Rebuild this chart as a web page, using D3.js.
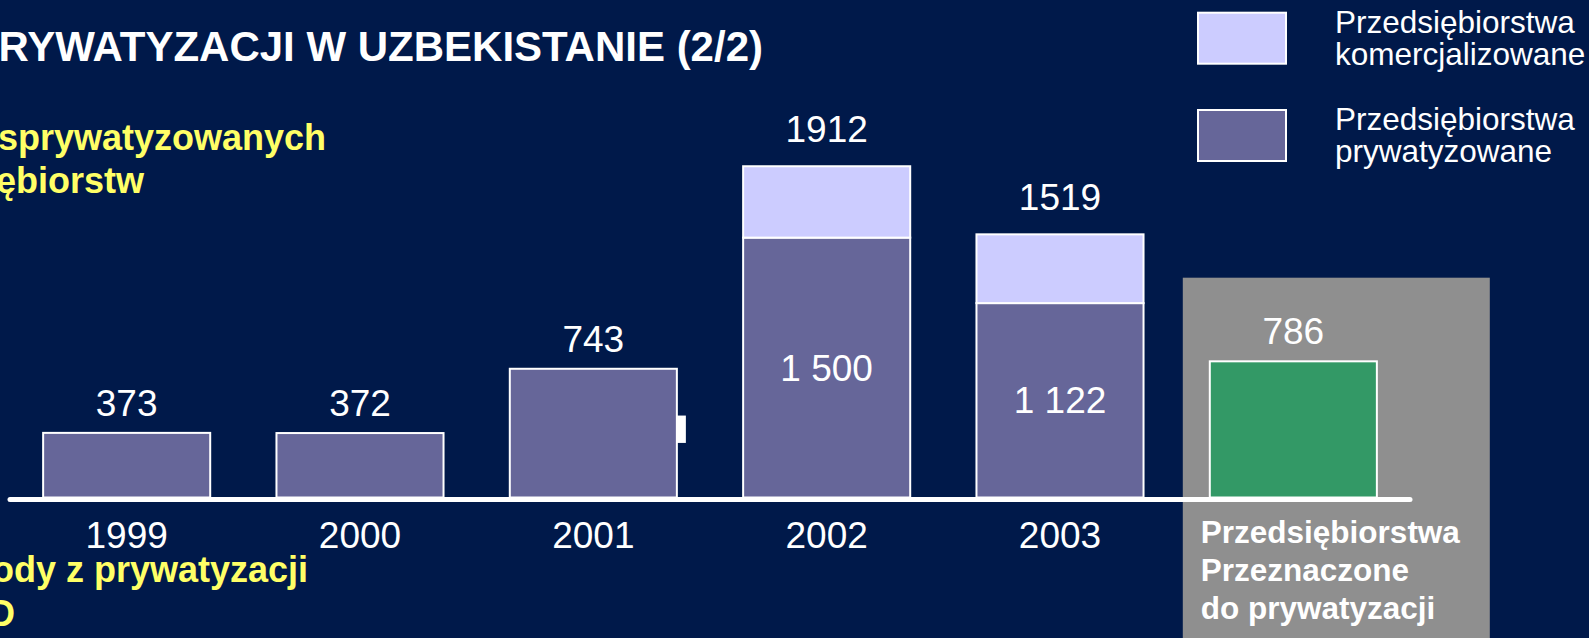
<!DOCTYPE html>
<html>
<head>
<meta charset="utf-8">
<script src="https://cdn.jsdelivr.net/npm/d3@7"></script>
<style>
  html, body { margin: 0; padding: 0; background: #00194a; overflow: hidden; }
  text { font-family: "Liberation Sans", Arial, sans-serif; }
</style>
</head>
<body>
<script>
const years = ["1999", "2000", "2001", "2002", "2003", "plan"];
const privatized = [373, 372, 743, 1500, 1122];
const commercialized = [0, 0, 0, 412, 397];
const totals = ["373", "372", "743", "1912", "1519"];
const innerLabels = ["", "", "", "1 500", "1 122"];
const planned = 786;
const legendLabels = [["Przedsiębiorstwa", "komercjalizowane"], ["Przedsiębiorstwa", "prywatyzowane"]];
const plannedLabel = ["Przedsiębiorstwa", "Przeznaczone", "do prywatyzacji"];

const width = 1589
const height = 638;

const colors = {priv: "#666699", comm: "#ccccff", plan: "#339966", box: "#8f8f8f", yellow: "#ffff66"}

const svg = d3.select("body")
    .append("svg")
    .attr("width", width)
    .attr("height", height)

const x = d3.scaleBand()
    .domain(years)
    .range([10, 1410])
    .paddingInner(0.284)
    .paddingOuter(0.142)

const y = d3.scaleLinear()
    .domain([0, 2000])
    .range([497.5, 151])

// rows for the stacked bars
const rows = years.slice(0, 5).map((d, i) => ({
    year: d, priv: privatized[i], comm: commercialized[i], total: totals[i], inner: innerLabels[i]
}))

// title (cut at the left edge like in the slide)
svg.append("text")
    .attr("x", 763).attr("y", 61)
    .attr("text-anchor", "end")
    .attr("fill", "white")
    .attr("font-weight", "bold")
    .attr("font-size", 42)
    .text("RYWATYZACJI W UZBEKISTANIE (2/2)")

// yellow side captions
const captions = [
    {t: "sprywatyzowanych", x: -2, y: 150},
    {t: "ębiorstw", x: -4, y: 193},
    {t: "ody z prywatyzacji", x: -8, y: 582},
    {t: "D", x: -11, y: 626}
]
svg.selectAll(".caption")
    .data(captions)
    .join("text")
    .attr("x", d => d.x).attr("y", d => d.y)
    .attr("fill", colors.yellow)
    .attr("font-weight", "bold")
    .attr("font-size", 36)
    .text(d => d.t)

// gray panel behind the planned bar
svg.append("rect")
    .attr("x", x("plan") - 27).attr("y", 277.7)
    .attr("width", 307).attr("height", height - 277.7)
    .attr("fill", colors.box)

// privatized part
svg.selectAll(".priv")
    .data(rows)
    .join("rect")
    .attr("x", d => x(d.year))
    .attr("y", d => y(d.priv))
    .attr("width", x.bandwidth())
    .attr("height", d => y(0) - y(d.priv))
    .attr("fill", colors.priv)
    .attr("stroke", "white")
    .attr("stroke-width", 2)

// commercialized part on top
svg.selectAll(".comm")
    .data(rows.filter(d => d.comm > 0))
    .join("rect")
    .attr("x", d => x(d.year))
    .attr("y", d => y(d.priv + d.comm))
    .attr("width", x.bandwidth())
    .attr("height", d => y(d.priv) - y(d.priv + d.comm))
    .attr("fill", colors.comm)
    .attr("stroke", "white")
    .attr("stroke-width", 2)

// little white tab on the 2001 bar
svg.append("rect")
    .attr("x", x("2001") + x.bandwidth()).attr("y", y(473))
    .attr("width", 9).attr("height", y(315) - y(473))
    .attr("fill", "white")

// planned bar
svg.append("rect")
    .attr("x", x("plan"))
    .attr("y", y(planned))
    .attr("width", x.bandwidth())
    .attr("height", y(0) - y(planned))
    .attr("fill", colors.plan)
    .attr("stroke", "white")
    .attr("stroke-width", 2)

// baseline
svg.append("line")
    .attr("x1", 10).attr("x2", 1410)
    .attr("y1", y(0) + 2).attr("y2", y(0) + 2)
    .attr("stroke", "white")
    .attr("stroke-width", 5)
    .attr("stroke-linecap", "round")

// totals above the bars (stacked ones sit a bit higher)
svg.selectAll(".total")
    .data(rows.concat([{year: "plan", priv: planned, comm: 0, total: String(planned)}]))
    .join("text")
    .attr("x", d => x(d.year) + x.bandwidth() / 2)
    .attr("y", d => y(d.priv + d.comm) - (d.comm > 0 ? 24 : 17))
    .attr("text-anchor", "middle")
    .attr("fill", "white")
    .attr("font-size", 37)
    .text(d => d.total)

// values inside the stacked bars
svg.selectAll(".inner")
    .data(rows.filter(d => d.inner))
    .join("text")
    .attr("x", d => x(d.year) + x.bandwidth() / 2)
    .attr("y", d => (y(d.priv) + y(0)) / 2 + 13)
    .attr("text-anchor", "middle")
    .attr("fill", "white")
    .attr("font-size", 37)
    .text(d => d.inner)

// year labels
svg.selectAll(".year")
    .data(years.slice(0, 5))
    .join("text")
    .attr("x", d => x(d) + x.bandwidth() / 2)
    .attr("y", 548)
    .attr("text-anchor", "middle")
    .attr("fill", "white")
    .attr("font-size", 37)
    .text(d => d)

// planned label in the gray panel
svg.append("text")
    .attr("x", x("plan") - 9)
    .attr("y", 543)
    .attr("fill", "white")
    .attr("font-weight", "bold")
    .attr("font-size", 31.5)
    .selectAll("tspan")
    .data(plannedLabel)
    .join("tspan")
    .attr("x", x("plan") - 9)
    .attr("dy", (d, i) => i === 0 ? 0 : 38)
    .text(d => d)

// legend
const legend = svg.selectAll(".legend")
    .data(legendLabels)
    .join("g")
    .attr("transform", (d, i) => `translate(1198,${12.7 + i * 97.3})`)

legend.append("rect")
    .attr("width", 88).attr("height", 51)
    .attr("fill", (d, i) => i === 0 ? colors.comm : colors.priv)
    .attr("stroke", "white")
    .attr("stroke-width", 2)

legend.append("text")
    .attr("fill", "white")
    .attr("font-size", 31.5)
    .selectAll("tspan")
    .data(d => d)
    .join("tspan")
    .attr("x", 137)
    .attr("y", (d, i) => 20 + i * 32)
    .text(d => d)
</script>
</body>
</html>
